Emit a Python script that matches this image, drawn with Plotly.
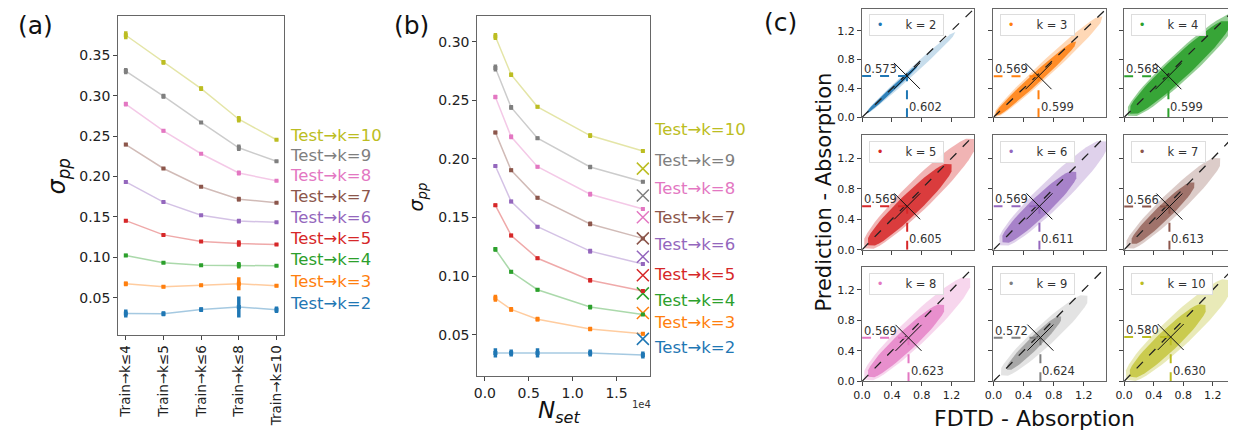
import math
import plotly.graph_objects as go

W, H = 1236, 440          # browser window
OFF = 8                   # default page margin of the html body
FW, FH = W - OFF, H - OFF  # figure size so that the page fits the window
FONT = "DejaVu Sans"
colors = ['#1f77b4', '#ff7f0e', '#2ca02c', '#d62728', '#9467bd',
          '#8c564b', '#e377c2', '#7f7f7f', '#bcbd22']
k_values = [2, 3, 4, 5, 6, 7, 8, 9, 10]

# ---------------- panel (a) data ----------------
a_categories = ['Train→k≤4', 'Train→k≤5', 'Train→k≤6', 'Train→k≤8', 'Train→k≤10']
a_k2 = [0.0305, 0.0301, 0.0353, 0.0386, 0.0350]
a_k3 = [0.0672, 0.0636, 0.0653, 0.0672, 0.0648]
a_k4 = [0.1024, 0.0932, 0.0903, 0.0903, 0.0895]
a_k5 = [0.1454, 0.1278, 0.1195, 0.1170, 0.1158]
a_k6 = [0.1934, 0.1684, 0.1522, 0.1449, 0.1433]
a_k7 = [0.2396, 0.2100, 0.1874, 0.1720, 0.1676]
a_k8 = [0.2898, 0.2566, 0.2283, 0.2044, 0.1947]
a_k9 = [0.3306, 0.2995, 0.2670, 0.2356, 0.2190]
a_k10 = [0.3750, 0.3415, 0.3090, 0.2710, 0.2456]
a_err_k2 = [0.005, 0.003, 0.003, 0.013, 0.004]
a_err_k3 = [0.003, 0.002, 0.002, 0.008, 0.002]
a_err_k4 = [0.002, 0.0015, 0.0015, 0.004, 0.0015]
a_err_k5 = [0.002, 0.0015, 0.0015, 0.004, 0.0015]
a_err_k6 = [0.002, 0.0015, 0.0012, 0.003, 0.0012]
a_err_k7 = [0.002, 0.0015, 0.0012, 0.003, 0.0012]
a_err_k8 = [0.003, 0.002, 0.0012, 0.003, 0.0012]
a_err_k9 = [0.004, 0.003, 0.0015, 0.004, 0.0012]
a_err_k10 = [0.005, 0.003, 0.003, 0.004, 0.0012]

# ---------------- panel (b) data ----------------
b_nset = [1200, 3000, 6000, 12000, 18000]
b_k2 = [0.0345, 0.0345, 0.0345, 0.0345, 0.0328]
b_k3 = [0.0811, 0.0716, 0.0633, 0.0549, 0.0508]
b_k4 = [0.1229, 0.1037, 0.0884, 0.0736, 0.0672]
b_k5 = [0.1604, 0.1347, 0.1152, 0.0965, 0.0873]
b_k6 = [0.1939, 0.1637, 0.1422, 0.1213, 0.1104]
b_k7 = [0.2226, 0.1903, 0.1668, 0.1445, 0.1322]
b_k8 = [0.2528, 0.2188, 0.1933, 0.1699, 0.1573]
b_k9 = [0.2776, 0.2439, 0.2176, 0.1931, 0.1805]
b_k10 = [0.3044, 0.2718, 0.2444, 0.2199, 0.2067]
b_err_k2 = [0.004, 0.003, 0.004, 0.003, 0.003]
b_err_k3 = [0.003, 0.002, 0.002, 0.002, 0.0015]
b_err_k4 = [0.002, 0.0015, 0.0015, 0.002, 0.0012]
b_err_k5 = [0.0015, 0.0015, 0.0015, 0.002, 0.0012]
b_err_k6 = [0.0012, 0.0015, 0.0015, 0.002, 0.0012]
b_err_k7 = [0.0015, 0.0015, 0.0015, 0.002, 0.0012]
b_err_k8 = [0.002, 0.002, 0.0015, 0.002, 0.0012]
b_err_k9 = [0.003, 0.002, 0.0015, 0.002, 0.0012]
b_err_k10 = [0.003, 0.002, 0.0015, 0.002, 0.0012]
b_cross = [0.0465, 0.0685, 0.0853, 0.1007, 0.1166, 0.1322, 0.1503, 0.1688, 0.1917]

# ---------------- panel (c) data ----------------
c_mean_x = [0.602, 0.599, 0.599, 0.605, 0.611, 0.613, 0.623, 0.624, 0.630]
c_mean_y = [0.573, 0.569, 0.568, 0.569, 0.569, 0.566, 0.569, 0.572, 0.580]
# approximate outline of each point cloud (start, end along diagonal, half width)
c_outer_x0 = [0.05, 0.00, 0.05, 0.03, 0.08, 0.03, 0.03, 0.10, 0.03]
c_outer_y0 = [0.05, 0.00, 0.02, 0.02, 0.06, 0.02, 0.02, 0.08, 0.02]
c_outer_x1 = [1.25, 1.45, 1.52, 1.52, 1.50, 1.30, 1.45, 1.25, 1.45]
c_outer_y1 = [1.18, 1.40, 1.42, 1.45, 1.42, 1.20, 1.35, 1.12, 1.32]
c_outer_hw = [0.05, 0.10, 0.18, 0.19, 0.18, 0.15, 0.18, 0.14, 0.20]
c_outer_alpha = [0.25, 0.30, 0.50, 0.35, 0.30, 0.30, 0.30, 0.22, 0.32]
c_core_x0 = [0.05, 0.02, 0.08, 0.08, 0.12, 0.10, 0.08, 0.18, 0.08]
c_core_y0 = [0.05, 0.02, 0.05, 0.06, 0.10, 0.08, 0.06, 0.15, 0.06]
c_core_x1 = [0.75, 1.10, 1.42, 1.20, 1.10, 0.95, 1.10, 0.90, 1.10]
c_core_y1 = [0.72, 1.05, 1.33, 1.12, 1.02, 0.88, 1.00, 0.85, 1.00]
c_core_hw = [0.03, 0.07, 0.15, 0.14, 0.13, 0.10, 0.13, 0.08, 0.14]
c_core_alpha = [0.90, 0.85, 0.90, 0.85, 0.75, 0.75, 0.75, 0.60, 0.70]


def pxx(x):
    return min(1.0, max(0.0, (x - OFF) / FW))


def pxy(y):
    return min(1.0, max(0.0, 1 - (y - OFF) / FH))


def rgba(hexc, a):
    h = hexc.lstrip('#')
    return 'rgba(%d,%d,%d,%.2f)' % (int(h[0:2], 16), int(h[2:4], 16), int(h[4:6], 16), a)


def lens(x0, y0, x1, y1, hw, n=24):
    """Outline of an elongated blob between two points (used to shade a point cloud)."""
    dx, dy = x1 - x0, y1 - y0
    L = math.hypot(dx, dy)
    nx, ny = -dy / L, dx / L
    up, lo = [], []
    for j in range(n + 1):
        t = j / n
        w = hw * math.sqrt(max(0.0, 1 - (2 * t - 1) ** 2)) ** 0.8
        cx, cy = x0 + dx * t, y0 + dy * t
        up.append((cx + nx * w, cy + ny * w))
        lo.append((cx - nx * w, cy - ny * w))
    pts = up + lo[::-1]
    return [p[0] for p in pts], [p[1] for p in pts]


fig = go.Figure()
base_axis = dict(showline=True, mirror=True, linecolor='#666', linewidth=1,
                 ticks='outside', ticklen=4, tickcolor='#444', showgrid=False,
                 zeroline=False, tickfont=dict(family=FONT, size=14, color='#222'))

a_series = [a_k2, a_k3, a_k4, a_k5, a_k6, a_k7, a_k8, a_k9, a_k10]
a_errs = [a_err_k2, a_err_k3, a_err_k4, a_err_k5, a_err_k6, a_err_k7, a_err_k8, a_err_k9, a_err_k10]
b_series = [b_k2, b_k3, b_k4, b_k5, b_k6, b_k7, b_k8, b_k9, b_k10]
b_errs = [b_err_k2, b_err_k3, b_err_k4, b_err_k5, b_err_k6, b_err_k7, b_err_k8, b_err_k9, b_err_k10]

a_x = list(range(len(a_categories)))
for i, c in enumerate(colors):
    fig.add_trace(go.Scatter(x=a_x, y=a_series[i], mode='lines', line=dict(color=rgba(c, 0.4), width=1.5),
                             xaxis='x', yaxis='y', showlegend=False, hoverinfo='skip'))
    fig.add_trace(go.Scatter(x=a_x, y=a_series[i], mode='markers',
                             marker=dict(symbol='square', size=4, color=c),
                             error_y=dict(type='data', array=a_errs[i], thickness=3.5, width=0, color=c),
                             xaxis='x', yaxis='y', showlegend=False))
    fig.add_trace(go.Scatter(x=b_nset, y=b_series[i], mode='lines', line=dict(color=rgba(c, 0.4), width=1.5),
                             xaxis='x2', yaxis='y2', showlegend=False, hoverinfo='skip'))
    fig.add_trace(go.Scatter(x=b_nset, y=b_series[i], mode='markers',
                             marker=dict(symbol='square', size=4, color=c),
                             error_y=dict(type='data', array=b_errs[i], thickness=3.5, width=0, color=c),
                             xaxis='x2', yaxis='y2', showlegend=False))
    fig.add_trace(go.Scatter(x=[b_nset[-1]], y=[b_cross[i]], mode='markers',
                             marker=dict(symbol='x-thin', size=12, line=dict(width=1.5, color=c)),
                             xaxis='x2', yaxis='y2', showlegend=False))

layout = dict(
    width=FW, height=FH, margin=dict(l=0, r=0, t=0, b=0),
    paper_bgcolor='white', plot_bgcolor='white', showlegend=False,
    font=dict(family=FONT, color='#222'),
)
layout['xaxis'] = dict(base_axis, domain=[pxx(110), pxx(277)], range=[-0.2, 4.2], anchor='y',
                       tickvals=a_x, ticktext=a_categories, tickangle=-90,
                       tickfont=dict(family=FONT, size=13.5, color='#222'))
layout['yaxis'] = dict(base_axis, domain=[pxy(340), pxy(15)], range=[0.004, 0.399], anchor='x',
                       tickvals=[0.05, 0.10, 0.15, 0.20, 0.25, 0.30, 0.35], tickformat='.2f')
layout['xaxis2'] = dict(base_axis, domain=[pxx(471.7), pxx(646)], range=[-860, 18850], anchor='y2',
                        tickvals=[0, 5000, 10000, 15000], ticktext=['0.0', '0.5', '1.0', '1.5'])
layout['yaxis2'] = dict(base_axis, domain=[pxy(381.7), pxy(15)], range=[0.015, 0.322], anchor='x2',
                        tickvals=[0.05, 0.10, 0.15, 0.20, 0.25, 0.30], tickformat='.2f')

cols = [(859.3, 972), (991.7, 1105.3), (1123.3, 1235)]
rows = [(2.7, 118.3), (136.7, 253.3), (270.7, 387.3)]
annotations = []
for i, c in enumerate(colors):
    r, cc = divmod(i, 3)
    n = 3 + i
    xa, ya = 'x%d' % n, 'y%d' % n
    ticks = [0, 0.4, 0.8, 1.2]
    layout['xaxis%d' % n] = dict(base_axis, domain=[pxx(cols[cc][0]), pxx(cols[cc][1])], range=[0, 1.5],
                                 anchor=ya, tickvals=ticks, tickformat='.1f', showticklabels=(r == 2),
                                 tickfont=dict(family=FONT, size=11, color='#222'))
    layout['yaxis%d' % n] = dict(base_axis, domain=[pxy(rows[r][1]), pxy(rows[r][0])], range=[0, 1.5],
                                 anchor=xa, tickvals=ticks, tickformat='.1f', showticklabels=(cc == 0),
                                 tickfont=dict(family=FONT, size=11, color='#222'))
    # cloud approximations
    ox, oy = lens(c_outer_x0[i], c_outer_y0[i], c_outer_x1[i], c_outer_y1[i], c_outer_hw[i])
    fig.add_trace(go.Scatter(x=ox, y=oy, mode='lines', fill='toself', fillcolor=rgba(c, c_outer_alpha[i]),
                             line=dict(width=0, color=rgba(c, 0)),
                             xaxis=xa, yaxis=ya, showlegend=False, hoverinfo='skip'))
    ix, iy = lens(c_core_x0[i], c_core_y0[i], c_core_x1[i], c_core_y1[i], c_core_hw[i])
    fig.add_trace(go.Scatter(x=ix, y=iy, mode='lines', fill='toself', fillcolor=rgba(c, c_core_alpha[i]),
                             line=dict(width=0, color=rgba(c, 0)),
                             xaxis=xa, yaxis=ya, showlegend=False, hoverinfo='skip'))
    # diagonal
    fig.add_trace(go.Scatter(x=[0, 1.5], y=[0, 1.5], mode='lines',
                             line=dict(color='#222', width=1.3, dash='dash'),
                             xaxis=xa, yaxis=ya, showlegend=False, hoverinfo='skip'))
    mx, my = c_mean_x[i], c_mean_y[i]
    fig.add_trace(go.Scatter(x=[0, mx], y=[my, my], mode='lines',
                             line=dict(color=c, width=2, dash='dash'),
                             xaxis=xa, yaxis=ya, showlegend=False, hoverinfo='skip'))
    fig.add_trace(go.Scatter(x=[mx, mx], y=[0, my], mode='lines',
                             line=dict(color=c, width=2, dash='dash'),
                             xaxis=xa, yaxis=ya, showlegend=False, hoverinfo='skip'))
    fig.add_trace(go.Scatter(x=[mx], y=[my], mode='markers',
                             marker=dict(symbol='x-thin', size=26, line=dict(width=1, color='#111')),
                             xaxis=xa, yaxis=ya, showlegend=False))
    annotations.append(dict(x=0.0, y=my, xref=xa, yref=ya, text='%.3f' % my, showarrow=False,
                            xanchor='left', yanchor='bottom', yshift=-2,
                            font=dict(family=FONT, size=11.5, color='#333')))
    annotations.append(dict(x=mx, y=0.02, xref=xa, yref=ya, text='%.3f' % mx, showarrow=False,
                            xanchor='left', yanchor='bottom', xshift=0,
                            font=dict(family=FONT, size=11.5, color='#333')))
    annotations.append(dict(x=0.06, y=0.95, xref=xa + ' domain', yref=ya + ' domain',
                            text=("&nbsp;<span style='color:%s'>•</span>" % c) + "&nbsp;" * 6 +
                                 "k = %d&nbsp;" % k_values[i],
                            showarrow=False, xanchor='left', yanchor='top',
                            bgcolor='rgba(255,255,255,0.9)', bordercolor='#ddd', borderwidth=1, borderpad=3,
                            font=dict(family=FONT, size=11.5, color='#333')))

# legend-like labels for (a) and (b)
a_label_y = [308, 285.5, 263.5, 242, 220, 199, 178, 157.5, 136.5]
b_label_y = [352.7, 327.3, 305, 278.3, 248.3, 220.7, 190.7, 162.7, 130.7]
for i, c in enumerate(colors):
    lbl = 'Test→k=%d' % k_values[i]
    annotations.append(dict(x=pxx(281), y=pxy(a_label_y[i]), xref='paper', yref='paper',
                            text=lbl, showarrow=False, xanchor='left', yanchor='middle',
                            font=dict(family=FONT, size=16.5, color=c)))
    annotations.append(dict(x=pxx(648), y=pxy(b_label_y[i]), xref='paper', yref='paper',
                            text=lbl, showarrow=False, xanchor='left', yanchor='middle',
                            font=dict(family=FONT, size=16.5, color=c)))

panel_texts = [('(a)', 27, 25), ('(b)', 405, 25), ('(c)', 777, 22)]
for t, x, y in panel_texts:
    annotations.append(dict(x=pxx(x), y=pxy(y), xref='paper', yref='paper', text=t, showarrow=False,
                            xanchor='center', yanchor='middle', font=dict(family=FONT, size=25, color='#111')))

annotations += [
    dict(x=pxx(50), y=pxy(178), xref='paper', yref='paper', text='<i>σ<sub>pp</sub></i>', showarrow=False,
         textangle=-90, xanchor='center', yanchor='middle', font=dict(family=FONT, size=24, color='#111')),
    dict(x=pxx(411), y=pxy(200), xref='paper', yref='paper', text='<i>σ<sub>pp</sub></i>', showarrow=False,
         textangle=-90, xanchor='center', yanchor='middle', font=dict(family=FONT, size=19, color='#111')),
    dict(x=pxx(555), y=pxy(419), xref='paper', yref='paper', text='<i>N<sub>set</sub></i>', showarrow=False,
         xanchor='center', yanchor='middle', font=dict(family=FONT, size=23, color='#111')),
    dict(x=pxx(637), y=pxy(411), xref='paper', yref='paper', text='1e4', showarrow=False,
         xanchor='center', yanchor='middle', font=dict(family=FONT, size=10, color='#333')),
    dict(x=pxx(820), y=pxy(195), xref='paper', yref='paper', text='Prediction - Absorption', showarrow=False,
         textangle=-90, xanchor='center', yanchor='middle', font=dict(family=FONT, size=21, color='#111')),
    dict(x=pxx(1033), y=pxy(425), xref='paper', yref='paper', text='FDTD - Absorption', showarrow=False,
         xanchor='center', yanchor='middle', font=dict(family=FONT, size=22, color='#111')),
]
layout['annotations'] = annotations
fig.update_layout(**layout)
fig.write_html("out.html")
